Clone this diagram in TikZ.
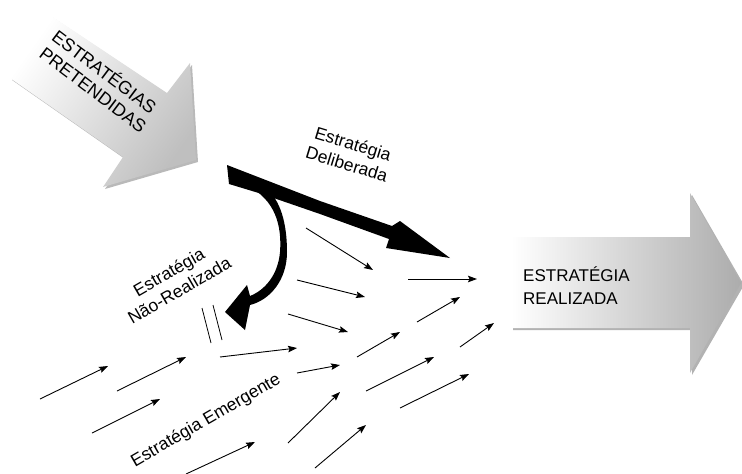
\documentclass[tikz,border=0pt]{standalone}
\usepackage{fontspec}
\setmainfont{Liberation Sans}
\usetikzlibrary{arrows.meta}
\begin{document}
\begin{tikzpicture}[x=1pt,y=-1pt,>={Stealth[length=9pt,width=6.5pt,inset=1.5pt]},
            line join=round,
            emerg/.style={->,line width=0.9pt},
            lbl/.style={font=\fontsize{17.5}{21}\selectfont,inner sep=0pt},
            caps/.style={font=\fontsize{17}{23}\selectfont,inner sep=0pt}]
            \useasboundingbox (0,0) rectangle (742,474);
            % pretended strategies
            \fill[gray!55] (52,17)--(169,95)--(192,65)--(198,162)--(105,189)--(125,159)--(12,80)--cycle;
            \path[top color=white,bottom color=gray!50,shading angle=55]
                (50,15)--(167,93)--(190,63)--(196,160)--(103,187)--(123,157)--(10,78)--cycle;
            \node[caps,font=\fontsize{18}{21}\selectfont,align=left,rotate=-37,anchor=north west]
                (pret) at (60,27) {ESTRATÉGIAS\\PRETENDIDAS};
            % realized strategy
            \fill[gray!60] (513,239)--(692,239)--(692,195)--(744,285)--(692,375)--(692,330)--(513,330)--cycle;
            \path[left color=white,right color=gray!65]
                (511,237)--(690,237)--(690,193)--(741,283)--(690,373)--(690,328)--(511,328)--cycle;
            \node[caps,align=left,anchor=west] (real) at (523,286) {ESTRATÉGIA\\REALIZADA};
            % deliberate strategy
            \fill (227,165)--(320,201)--(392,226)--(400,221)--(450,258)--(386,248)--(389,239)
                --(320,214)--(262,194)--(229,184)--cycle;
            \node[lbl,align=center,rotate=-17] (delib) at (350,154) {Estratégia\\Deliberada};
            % unrealized strategy
            \fill (248,186) .. controls (275,200) and (282,225) .. (280,252)
                .. controls (278,275) and (265,290) .. (250,296) -- (247,285) -- (225,312)
                -- (245,330) -- (250,305) .. controls (270,300) and (287,280) .. (287,252)
                .. controls (287,222) and (280,200) .. (266,188) -- cycle;
            \node[lbl,align=center,rotate=30] (nreal) at (174,281) {Estratégia\\Não-Realizada};
            \draw[line width=0.8pt] (202,308)--(211,343);
            \draw[line width=0.8pt] (213,305)--(222,340);
            % emergent strategy
            \foreach \a/\b/\c/\d in {306/228/373/270, 297/280/365/297, 288/314/348/332,
                408/279/477/279, 417/322/460/297, 460/347/494/323, 357/357/400/332,
                220/357/297/348, 40/399/108/366, 117/391/186/357, 92/433/160/399,
                186/474/255/442, 297/373/340/365, 366/391/434/357, 400/408/469/374,
                288/443/340/392, 315/468/366/425}
                \draw[emerg] (\a,\b)--(\c,\d);
            \node[lbl,rotate=30] (emer) at (206,421) {Estratégia Emergente};
        \end{tikzpicture}
\end{document}
